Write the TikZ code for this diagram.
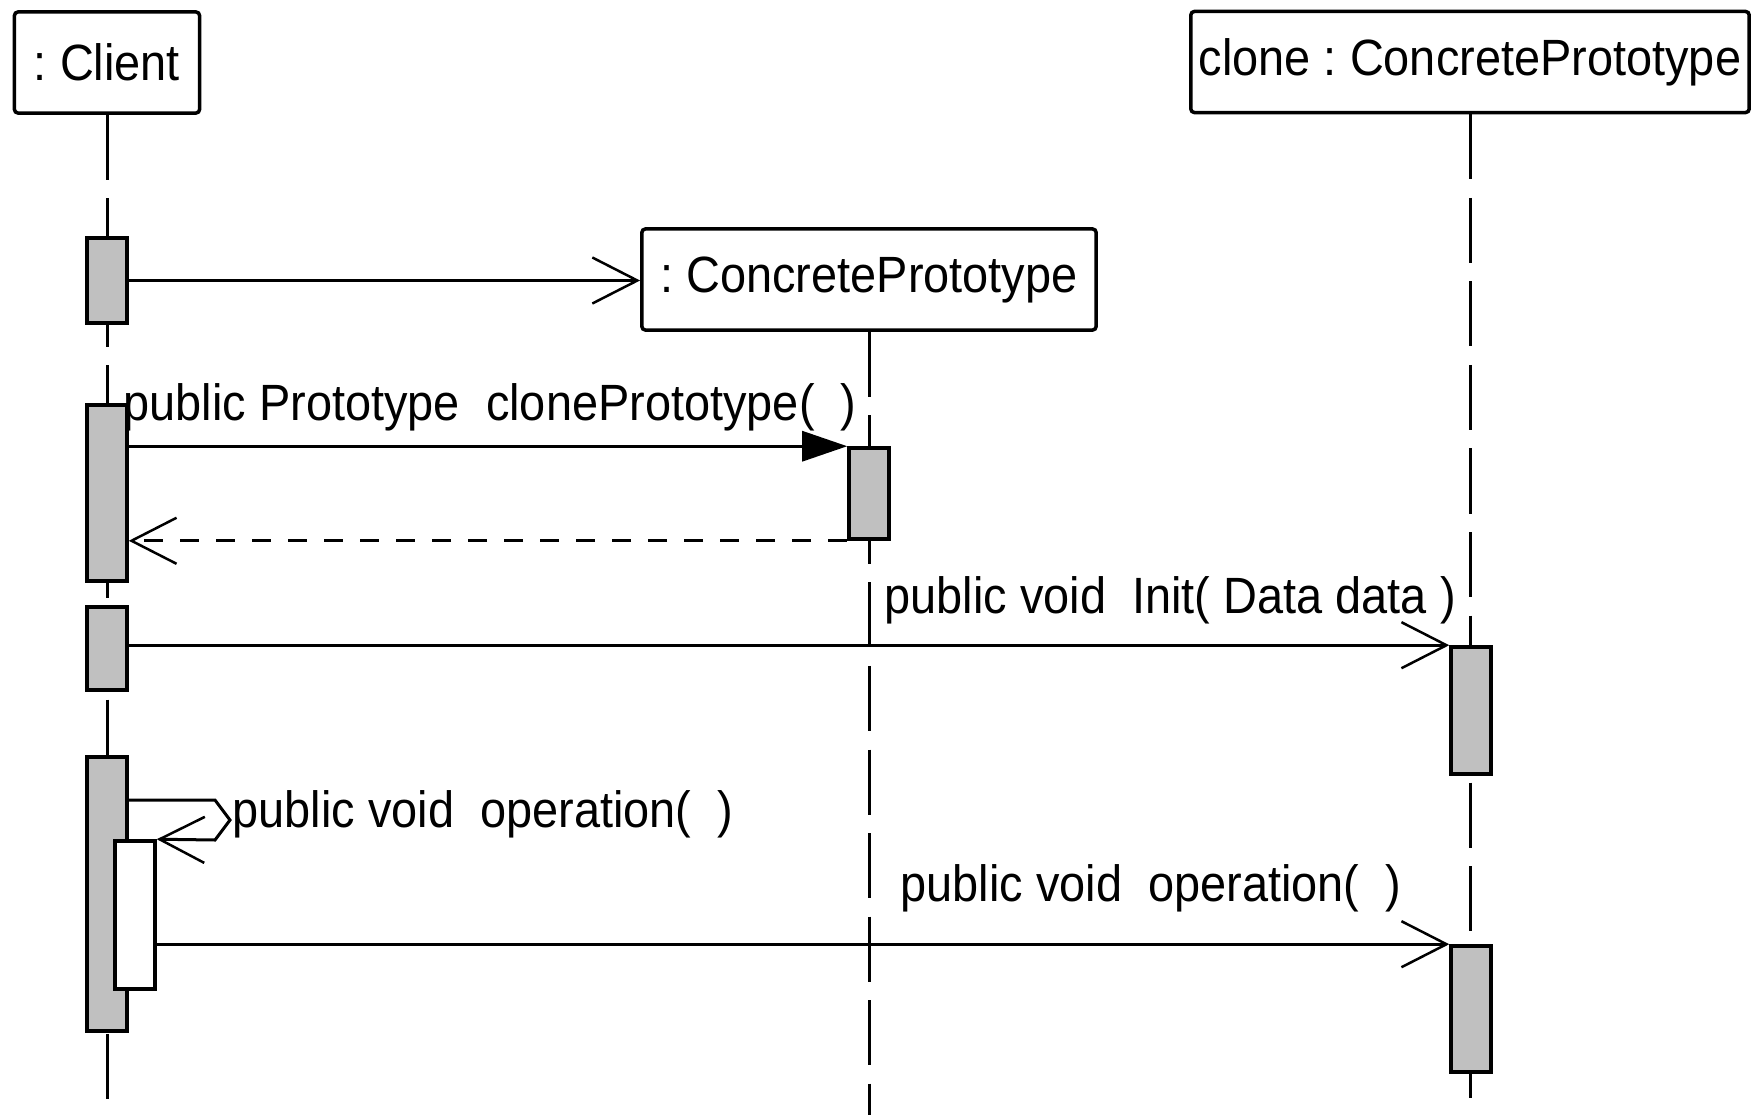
\documentclass[tikz,border=0pt]{standalone}
\usepackage{fontspec}
\setmainfont{Liberation Sans}[FakeStretch=0.92]
\usetikzlibrary{arrows.meta}
\definecolor{bargray}{HTML}{C0C0C0}

\begin{document}
\begin{tikzpicture}[
  x=0.01cm, y=-0.01cm,
  font=\fontsize{14.5}{17}\selectfont,
  obj/.style={
    draw, line width=0.035cm, fill=white, rounded corners=1pt,
    inner sep=0pt, minimum height=1.01cm
  },
  bar/.style={draw, line width=0.035cm, fill=bargray, inner sep=0pt, minimum width=0.4cm},
  nested/.style={bar, fill=white},
  life/.style={line width=0.03cm, dash pattern=on 0.65cm off 0.185cm},
  flow/.style={line width=0.03cm, -{Straight Barb[length=0.45cm, width=0.46cm, line width=0.025cm]}},
  sync/.style={line width=0.03cm, -{Triangle[length=0.45cm, width=0.3cm]}},
  ret/.style={flow, dash pattern=on 0.19cm off 0.17cm},
  lbl/.style={anchor=base west, inner sep=0pt},
]
\useasboundingbox (0,0) rectangle (1751,1115);

% Lifeline heads
\node[obj, minimum width=1.85cm] (client) at (107,62.5) {:\ Client};
\node[obj, minimum width=4.54cm] (cp)     at (869,279.5) {:\ ConcretePrototype};
\node[obj, minimum width=5.58cm] (clone)  at (1470,62) {clone\ :\ ConcretePrototype};

% Lifelines
\coordinate (clientend) at (107,1103);
\coordinate (cpend)     at (869,1115);
\coordinate (cloneend)  at (1470,1103);
\draw[life] (client) -- (clientend);
\draw[life] (cp)     -- (cpend);
\draw[life] (clone)  -- (cloneend);

% Activation bars
\node[bar, minimum height=0.85cm]  (c1) at (107,280.5) {};
\node[bar, minimum height=1.76cm]  (c2) at (107,493) {};
\node[bar, minimum height=0.83cm]  (c3) at (107,648.5) {};
\node[bar, minimum height=2.74cm]  (c4) at (107,894) {};
\node[nested, minimum height=1.48cm] (n1) at (135,915) {};
\node[bar, minimum height=0.91cm]  (p1) at (869,493.5) {};
\node[bar, minimum height=1.27cm]  (k1) at (1471,710.5) {};
\node[bar, minimum height=1.26cm]  (k2) at (1471,1009) {};

% Messages
\draw[flow] (c1.east) -- (c1.east -| cp.west);
\draw[sync] (c2.east |- p1.north) -- (p1.north west);
\draw[ret]  (p1.south west) -- (c2.east |- p1.south);
\draw[flow] (c3.east |- k1.north) -- (k1.north west);
\coordinate (selfout) at (127,800);
\draw[flow] (selfout) -- ++(88,0) -- ++(15,20) -- ++(-15,20) -- (n1.north east);
\draw[flow] (n1.east |- k2.north) -- (k2.north west);

% Message labels
\node[lbl] (lclone) at (123,420) {public Prototype\ \ clonePrototype(\ \ )};
\node[lbl] (linit)  at (884,613) {public void\ \ Init( Data data )};
\node[lbl] (lself)  at (232,827) {public void\ \ operation(\ \ )};
\node[lbl] (lop)    at (900,901) {public void\ \ operation(\ \ )};
\end{tikzpicture}
\end{document}
